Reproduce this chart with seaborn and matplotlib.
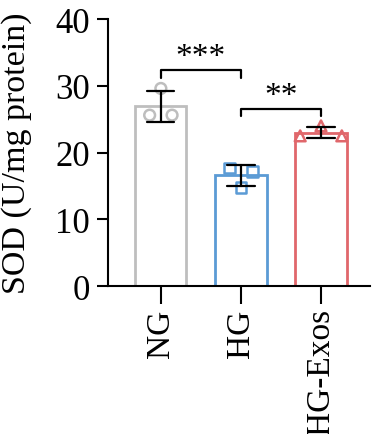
import numpy as np
import pandas as pd
import matplotlib
matplotlib.use("Agg")
import matplotlib.pyplot as plt
import seaborn as sns

# ---- data ----
groups = ["NG", "HG", "HG-Exos"]
ng_values = [29.6, 25.6, 25.6]
hg_values = [17.7, 17.2, 14.8]
exos_values = [24.0, 22.5, 22.5]
y_ticks = [0, 10, 20, 30, 40]
y_label = "SOD (U/mg protein)"
sig_labels = ["***", "**"]
sig_pairs = [(0, 1), (1, 2)]
sig_heights = [32.3, 26.5]

# ---- style ----
colors = ["#BEBEBE", "#5B9BD5", "#E0676B"]
markers = ["o", "s", "^"]
point_offsets = [[0.0, -0.14, 0.14], [-0.14, 0.14, 0.0], [0.0, -0.26, 0.26]]

sns.set_style("ticks")
plt.rcParams["font.family"] = ["Liberation Serif", "DejaVu Serif"]
plt.rcParams["axes.linewidth"] = 1.5
plt.rcParams["axes.edgecolor"] = "black"
plt.rcParams["text.color"] = "black"
plt.rcParams["axes.labelcolor"] = "black"
plt.rcParams["xtick.color"] = "black"
plt.rcParams["ytick.color"] = "black"

df = pd.DataFrame({
    "group": np.repeat(groups, 3),
    "value": ng_values + hg_values + exos_values,
})

fig = plt.figure(figsize=(3.77, 4.35), dpi=100)
ax = fig.add_axes([0.2865, 0.340, 0.6945, 0.614])

sns.barplot(data=df, x="group", y="value", order=groups, estimator="mean",
            errorbar="sd", capsize=0.34, width=0.64, color="white",
            linewidth=2, err_kws={"color": "black", "linewidth": 1.6, "zorder": 4},
            ax=ax)
for patch, c in zip(ax.patches, colors):
    patch.set_edgecolor(c)
    patch.set_facecolor("none")
    patch.set_linewidth(2)

all_vals = [ng_values, hg_values, exos_values]
for i, vals in enumerate(all_vals):
    xs = [i + o for o in point_offsets[i]]
    ax.scatter(xs, vals, marker=markers[i], s=60, facecolors="none",
               edgecolors=colors[i], linewidths=1.8, zorder=3)

for (a, b), h, lab in zip(sig_pairs, sig_heights, sig_labels):
    ax.plot([a, a, b, b], [h - 1.1, h, h, h - 1.1], color="black", lw=1.6)
    ax.text((a + b) / 2, h - 0.3, lab, ha="center", va="bottom", fontsize=24)

ax.set_ylim(0, 40)
ax.set_xlim(-0.66, 2.61)
ax.set_yticks(y_ticks)
ax.set_xlabel("")
ax.set_ylabel(y_label, fontsize=24.5, labelpad=17)
ax.tick_params(axis="y", labelsize=25, width=1.5, length=8, pad=5)
ax.tick_params(axis="x", labelsize=24, width=1.5, length=13, pad=3, labelrotation=90)
sns.despine(ax=ax)

fig.savefig("out.png", dpi=100)
